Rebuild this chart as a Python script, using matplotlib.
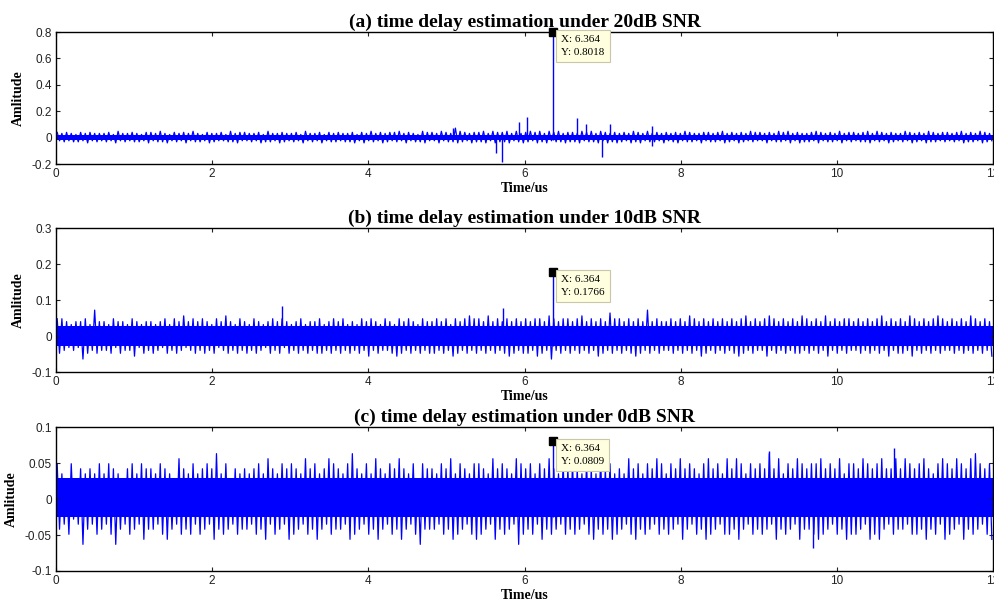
import matplotlib
matplotlib.use('Agg')
import matplotlib.pyplot as plt

# time axis limits (us)
t_min, t_max = 0, 12

# peak found by the estimator (data tip)
peak_t = 6.364
peak_y = [0.8018, 0.1766, 0.0809]

titles = ['(a) time delay estimation under 20dB SNR',
          '(b) time delay estimation under 10dB SNR',
          '(c) time delay estimation under 0dB SNR']
ylims = [(-0.2, 0.8), (-0.1, 0.3), (-0.1, 0.1)]
yticks = [[-0.2, 0, 0.2, 0.4, 0.6, 0.8],
          [-0.1, 0, 0.1, 0.2, 0.3],
          [-0.1, -0.05, 0, 0.05, 0.1]]
ytick_labels = [['-0.2', '0', '0.2', '0.4', '0.6', '0.8'],
                ['-0.1', '0', '0.1', '0.2', '0.3'],
                ['-0.1', '-0.05', '0', '0.05', '0.1']]

# noise envelope: 200 columns of 0.06 us each,
# one digit per column = local max (top) / local min (bottom) in units of `unit`
col_dt = 0.06
unit = [0.008, 0.008, 0.007]

top_a = """5454354544 4536445435 5464354546 4354453645 5445364454 4536445354 5445354645
4556454365 5465496545 5646556464 5656465645 5465646545 4546546454 5454654455 4564545465
5454656454 4565454645 5456465454 4654546545 5456454654"""
bot_a = """3434435343 4353434435 3445343534 4354334453 3435443543 4353435344 3445353435
4343534453 3534454354 4535445345 4354534454 4534453545 4354534435 3453443534 4354354343
3534435354 4353443534 3445343543 4354354434 3435443543"""

top_b = """6654556495 5465546545 5456465756 5654657546 5465456565 4564556456 5645465654
6546565465 5656465676 6575656565 6566576566 5675656586 6565659565 5656576565 6565656756
5676565657 6565756566 5656567565 6576565676 5656576565"""
bot_b = """6545486565 5646557465 6546565456 5656456565 6565465646 5656566565 6565657565
5676565656 6565765656 5656567656 6576585656 5656576565 6567656565 5656565765 6565676565
5756565665 6565756565 5656565756 6575656565 5656565657"""

top_c = """7547465657 5765467576 6576548657 5676957465 6567586576 7658675687 6579657586
5768657476 6576857657 7658676587 6757686576 7657658675 6586757687 5768676578 6758687576
7696857687 6778676857 7687678668 6876786578 7687689767"""
bot_c = """6574596576 5796576586 6578657675 7658676576 6576857658 7657686576 6587657686
5768657966 6576876578 7658676597 6758676576 7657867687 6578676576 7658657687 6577686576
7658676586 6787657687 7658786576 6577686758 7658676578"""

# dense core of the noise (solid band)
core_hi = [0.022, 0.027, 0.029]
core_lo = [-0.018, -0.027, -0.025]

# large isolated spikes (t in us, amplitude)
spike_t = [[5.08, 5.63, 5.71, 5.93, 6.03, 6.67, 6.79, 6.99, 7.09, 7.63, 7.63],
           [2.89, 5.72],
           [9.13, 9.69, 10.73]]
spike_y = [[0.07, -0.117, -0.185, 0.12, 0.156, 0.15, 0.10, -0.147, 0.10, 0.088, -0.06],
           [0.083, 0.078],
           [0.067, -0.068, 0.071]]

tops = [top_a, top_b, top_c]
bots = [bot_a, bot_b, bot_c]

serif = ['Liberation Serif', 'DejaVu Serif']
plt.rcParams['font.family'] = ['Liberation Sans', 'DejaVu Sans']

fig = plt.figure(figsize=(9.95, 6.05), dpi=100)
boxes = [[0.0563, 0.7289, 0.9417, 0.2182],
         [0.0563, 0.3851, 0.9417, 0.2380],
         [0.0563, 0.0562, 0.9417, 0.2380]]

for i in range(3):
    ax = fig.add_axes(boxes[i])
    top = [int(c) * unit[i] for c in ''.join(tops[i].split())]
    bot = [-int(c) * unit[i] for c in ''.join(bots[i].split())]

    # trace zigzags between the column max and min
    xs, ys = [], []
    for k in range(len(top)):
        xs += [(k + 0.25) * col_dt, (k + 0.75) * col_dt]
        ys += [top[k], bot[k]]
    ax.fill_between([t_min, t_max], core_lo[i], core_hi[i], color='blue', lw=0)
    ax.plot(xs, ys, color='blue', lw=0.9)
    ax.vlines(spike_t[i], 0, spike_y[i], color='blue', lw=1.0)
    ax.vlines(peak_t, core_lo[i], peak_y[i], color='blue', lw=1.0)
    ax.plot(peak_t, peak_y[i], 's', color='black', ms=6, clip_on=False)
    ax.annotate('X: %.3f\nY: %s' % (peak_t, str(peak_y[i])),
                xy=(peak_t, peak_y[i]), xytext=(6, -2), textcoords='offset points',
                ha='left', va='top', fontsize=8, family=serif, linespacing=1.6,
                bbox=dict(boxstyle='square,pad=0.45', fc='#ffffe0', ec='#c8c8a8', lw=0.8))

    ax.set_xlim(t_min, t_max)
    ax.set_ylim(*ylims[i])
    ax.set_xticks([0, 2, 4, 6, 8, 10, 12])
    ax.set_xticklabels(['0', '2', '4', '6', '8', '10', '12'])
    ax.set_yticks(yticks[i])
    ax.set_yticklabels(ytick_labels[i])
    ax.tick_params(direction='in', top=True, right=True, length=3, width=0.8,
                   labelsize=8.5, pad=3, colors='#222222')
    for s in ax.spines.values():
        s.set_linewidth(1.0)
    ax.set_title(titles[i], family=serif, fontweight='bold', fontsize=14, pad=4)
    ax.set_ylabel('Amlitude', family=serif, fontweight='bold', fontsize=10, labelpad=5)
    ax.set_xlabel('Time/us', family=serif, fontweight='bold', fontsize=10, labelpad=1)

fig.savefig('out.png', dpi=100)
